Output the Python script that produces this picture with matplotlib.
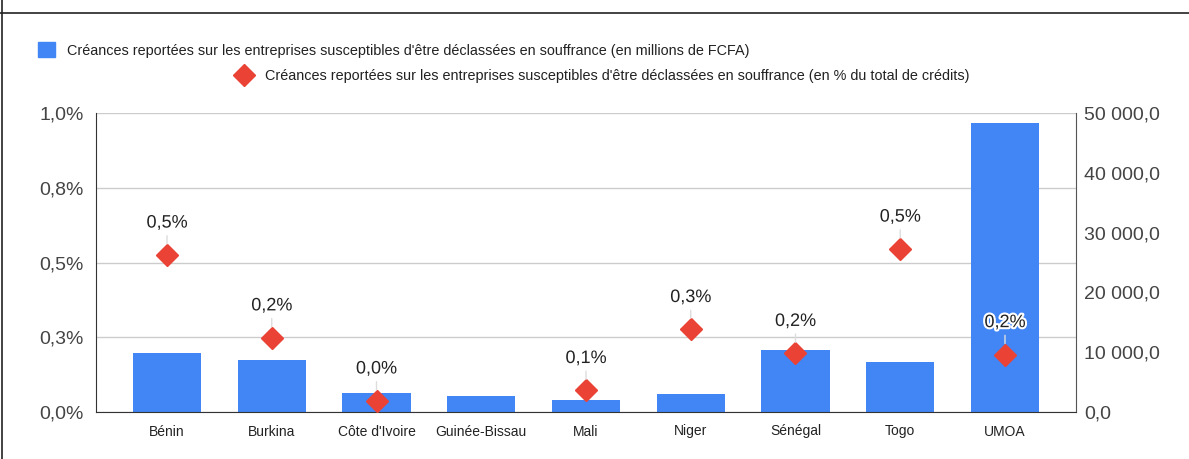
import numpy as np
import matplotlib
matplotlib.use("Agg")
import matplotlib.pyplot as plt
import matplotlib.patheffects as pe
from matplotlib.lines import Line2D
from matplotlib.patches import Patch
from matplotlib.ticker import FuncFormatter

plt.rcParams["font.family"] = ["Liberation Sans", "DejaVu Sans"]

# Données
pays = ["Bénin", "Burkina", "Côte d'Ivoire", "Guinée-Bissau", "Mali",
        "Niger", "Sénégal", "Togo", "UMOA"]
montants = [9880, 8650, 3250, 2750, 1960, 2960, 10330, 8370, 48280]  # millions FCFA
taux = [0.525, 0.248, 0.037, np.nan, 0.072, 0.276, 0.196, 0.545, 0.192]  # % des crédits
ticks_pct = [0.0, 0.25, 0.5, 0.75, 1.0]
labels_pct = ["0,0%", "0,3%", "0,5%", "0,8%", "1,0%"]
ticks_mnt = [0, 10000, 20000, 30000, 40000, 50000]

lib_mnt = "Créances reportées sur les entreprises susceptibles d'être déclassées en souffrance (en millions de FCFA)"
lib_pct = "Créances reportées sur les entreprises susceptibles d'être déclassées en souffrance (en % du total de crédits)"

bleu = "#4285F4"
rouge = "#EA4335"
W, H = 1189, 459

fig = plt.figure(figsize=(W / 100, H / 100), dpi=100)
ax_pct = fig.add_axes([96 / W, 1 - 412 / H, 980 / W, 299 / H])
ax_bar = ax_pct.twinx()
ax_pt = ax_pct.twinx()

x = np.arange(len(pays))

# Grille (axe en %)
ax_pct.set_ylim(0, 1)
ax_pct.set_yticks(ticks_pct)
ax_pct.set_yticklabels(labels_pct)
ax_pct.grid(axis="y", color="#cccccc", lw=1)
ax_pct.set_axisbelow(True)
ax_pct.set_xlim(-0.678, len(pays) - 1 + 0.678)
ax_pct.set_xticks(x)
ax_pct.set_xticklabels(pays)
ax_pct.tick_params(axis="x", length=0, pad=9, labelsize=10, labelcolor="#222222")
ax_pct.tick_params(axis="y", length=0, pad=9, labelsize=14, labelcolor="#444444")

# Barres (axe de droite)
ax_bar.bar(x, montants, width=0.65, color=bleu, zorder=2)
ax_bar.set_ylim(0, 50000)
ax_bar.set_yticks(ticks_mnt)
ax_bar.yaxis.set_major_formatter(FuncFormatter(
    lambda v, p: f"{v:,.1f}".replace(",", " ").replace(".", ",")))
ax_bar.tick_params(axis="y", length=0, pad=6, labelsize=14, labelcolor="#444444")

# Losanges (axe de gauche)
ax_pt.set_ylim(0, 1)
ax_pt.set_yticks([])
ax_pt.plot(x, taux, linestyle="none", marker="D", markersize=11, color=rouge, zorder=3)
for xi, v in zip(x, taux):
    if np.isnan(v):
        continue
    txt = ax_pt.annotate(f"{v:.1f}".replace(".", ",") + "%", xy=(xi, v), xytext=(0, 23),
                         textcoords="offset points", ha="center", va="center",
                         fontsize=13, color="#222222",
                         arrowprops=dict(arrowstyle="-", color="#dddddd", lw=1,
                                         shrinkA=1, shrinkB=8))
    txt.set_path_effects([pe.withStroke(linewidth=3, foreground="white")])

for a in (ax_pct, ax_bar, ax_pt):
    for s in a.spines.values():
        s.set_visible(False)
ax_pt.spines["left"].set_visible(True)
ax_pt.spines["left"].set_color("#333333")
ax_pt.spines["bottom"].set_visible(True)
ax_pt.spines["bottom"].set_color("#333333")
ax_pt.spines["right"].set_visible(True)
ax_pt.spines["right"].set_color("#555555")

# Légende
fig.legend(handles=[Patch(color=bleu)], labels=[lib_mnt], loc="center left",
           bbox_to_anchor=(38 / W, 1 - 50 / H), frameon=False, fontsize=10.4,
           handlelength=1.18, handleheight=1.18, handletextpad=0.83,
           borderpad=0, borderaxespad=0, labelcolor="#222222")
fig.legend(handles=[Line2D([], [], linestyle="none", marker="D", markersize=11, color=rouge)],
           labels=[lib_pct], loc="center left",
           bbox_to_anchor=(235.5 / W, 1 - 76 / H), frameon=False, fontsize=10.4,
           handlelength=1.18, handletextpad=0.87,
           borderpad=0, borderaxespad=0, labelcolor="#222222")

# Bordures
fig.add_artist(Line2D([0, 1], [1 - 12.5 / H] * 2, color="#222222", lw=1.2))
fig.add_artist(Line2D([2 / W] * 2, [0, 1], color="#222222", lw=1.2))

fig.savefig("out.png", dpi=100)
